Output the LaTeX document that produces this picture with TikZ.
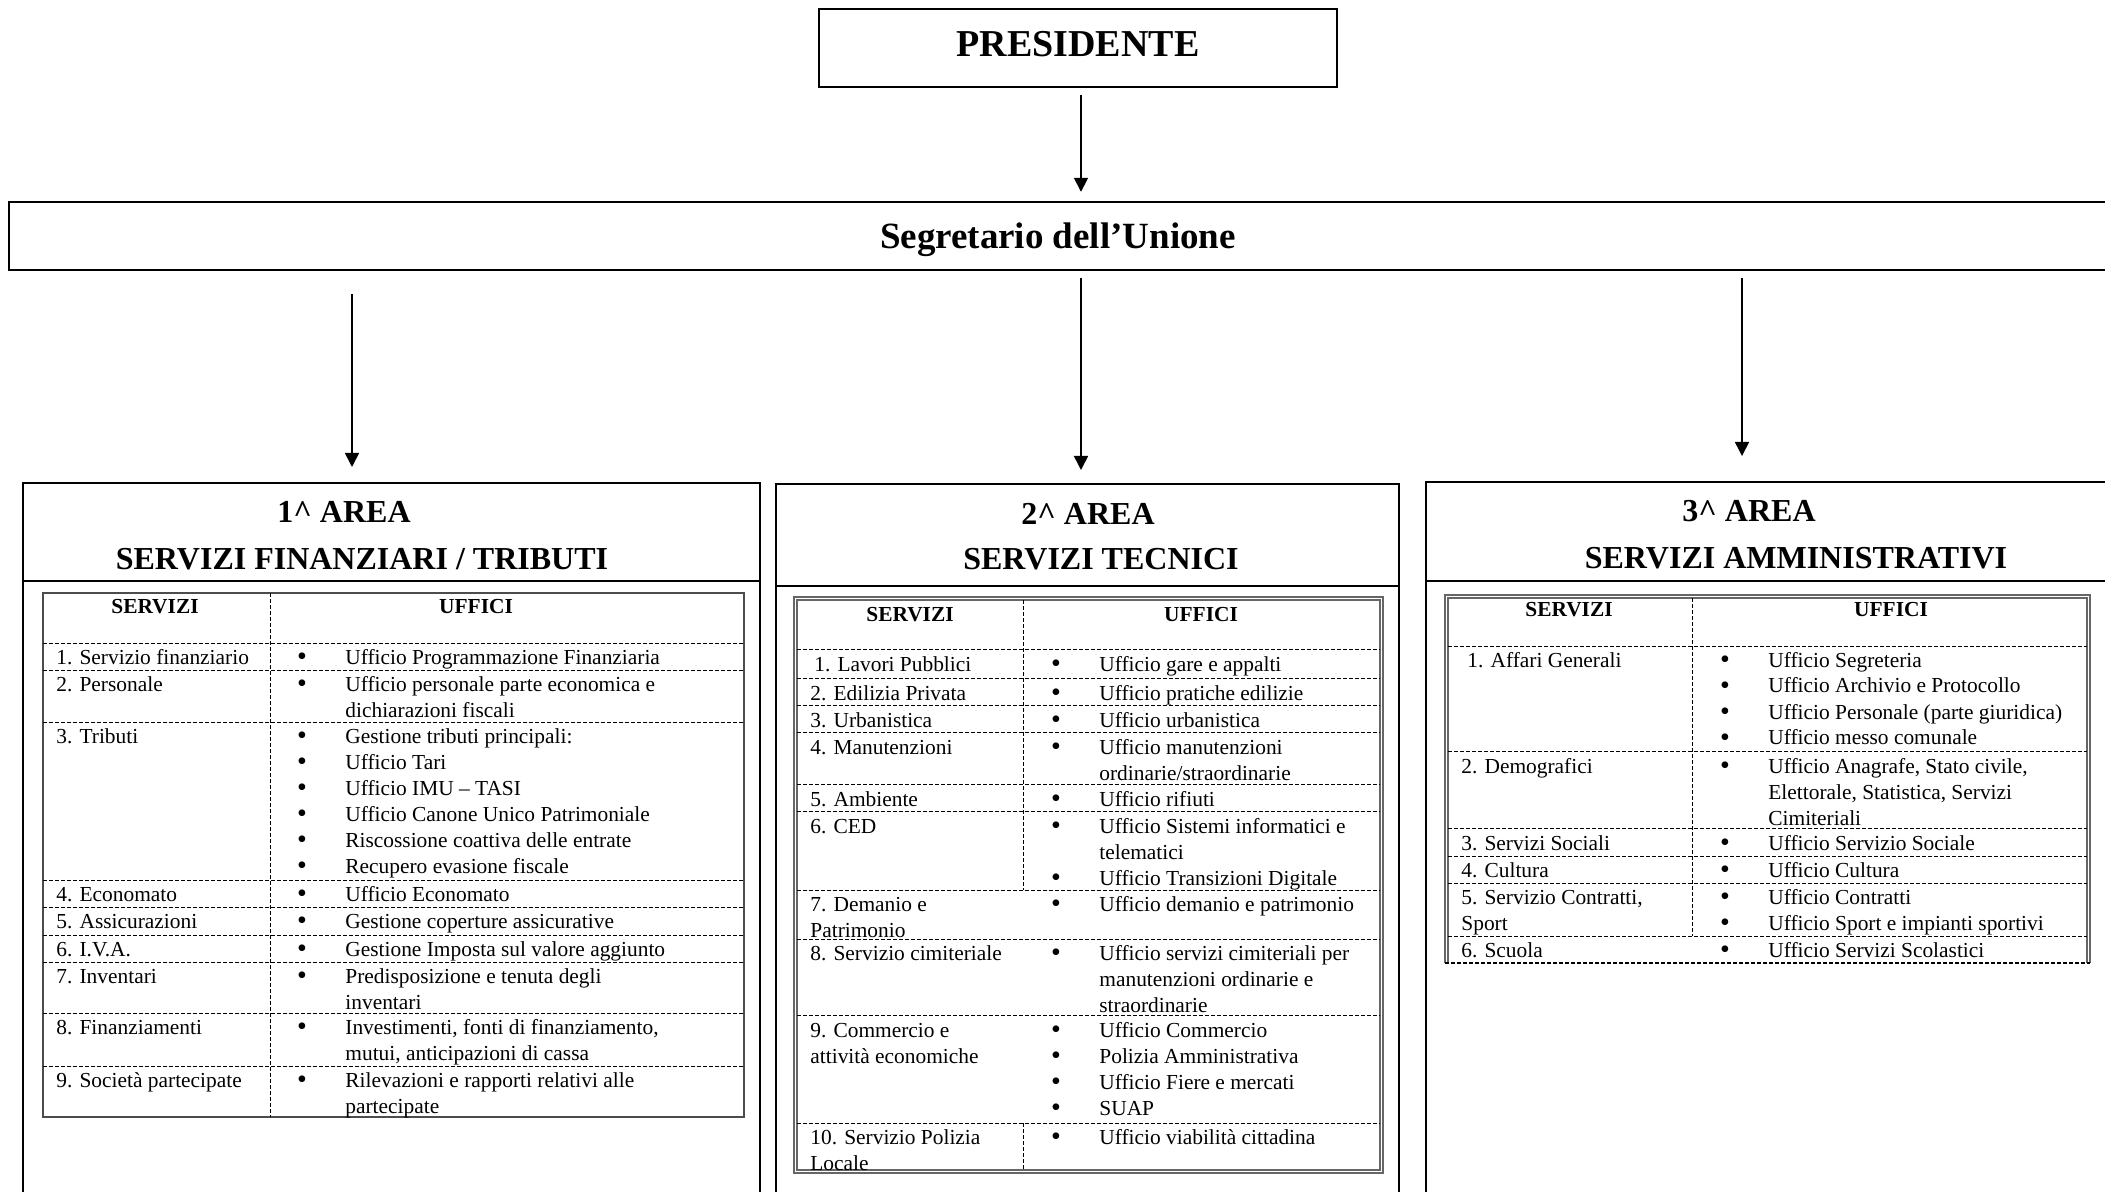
\documentclass[tikz,border=0pt]{standalone}
\usepackage{fontspec}
\setmainfont{Liberation Serif}
\usetikzlibrary{arrows.meta}
\newcommand\svcell[1]{\begin{tabular}[t]{@{}l@{}}#1\end{tabular}}
\newcommand\ufcell[1]{\begin{tabular}[t]{@{}p{23.5pt}@{}l@{}}#1\end{tabular}}
\newcommand\bu{\hspace*{-0.6pt}\raisebox{-0.9pt}{\fontsize{14}{13}\selectfont\textbullet}}
\begin{document}
\begin{tikzpicture}[x=0.5pt,y=-0.5pt,
 box/.style={draw, line width=1.2pt, inner sep=0pt},
 arr/.style={line width=0.8pt, -{Triangle[length=7pt,width=7pt]}},
 ttl/.style={font=\fontsize{16}{19}\selectfont\bfseries, anchor=base, inner sep=0pt},
 hd/.style={font=\fontsize{10.7}{13}\selectfont\bfseries, anchor=base, inner sep=0pt},
 cell/.style={font=\fontsize{10.7}{13}\selectfont, anchor=base west, inner sep=0pt},
 dl/.style={line width=0.5pt, dash pattern=on 2pt off 1pt},
 tb/.style={line width=0.9pt, draw=black!70},
 tdb/.style={line width=0.6pt, draw=black!60},
]
\useasboundingbox (0,0) rectangle (2105,1192);
\clip (0,0) rectangle (2105,1192);

% top boxes
\node[box, minimum width=259pt, minimum height=39pt, text depth=4pt, font=\fontsize{19}{22}\selectfont\bfseries] (pres) at (1078,48) {PRESIDENTE};
\node[box, minimum width=1049pt, minimum height=34pt, text height=16.6pt, font=\fontsize{18.5}{22}\selectfont\bfseries] (seg) at (1058,236) {Segretario dell’Unione};

% area boxes
\node[box, anchor=north west, minimum width=368.5pt, minimum height=360pt] (area1) at (22,482) {};
\node[box, anchor=north west, minimum width=311.5pt, minimum height=360pt] (area2) at (775,483) {};
\node[box, anchor=north west, minimum width=350pt, minimum height=360pt] (area3) at (1425,481) {};
\draw[line width=1.2pt] (22,581) -- (759,581);
\draw[line width=1.2pt] (775,586) -- (1398,586);
\draw[line width=1.2pt] (1425,581) -- (2120,581);

% connectors
\coordinate (c1) at (352,0);
\coordinate (c2) at (1081,0);
\coordinate (c3) at (1742,0);
\draw[arr, shorten <=3.5pt, shorten >=4.5pt] (pres.south -| c2) -- (seg.north -| c2);
\draw[arr, shorten <=11.5pt, shorten >=7.5pt] (seg.south -| c1) -- (area1.north -| c1);
\draw[arr, shorten <=3.5pt, shorten >=6.5pt] (seg.south -| c2) -- (area2.north -| c2);
\draw[arr, shorten <=3.5pt, shorten >=12.5pt] (seg.south -| c3) -- (area3.north -| c3);

% titles
\node[ttl] (a1t1) at (344,523) {1\textasciicircum{} AREA};
\node[ttl] (a1t2) at (362,569) {SERVIZI FINANZIARI / TRIBUTI};
\node[ttl] (a2t1) at (1088,524) {2\textasciicircum{} AREA};
\node[ttl] (a2t2) at (1101,569) {SERVIZI TECNICI};
\node[ttl] (a3t1) at (1749,522) {3\textasciicircum{} AREA};
\node[ttl] (a3t2) at (1796,568) {SERVIZI AMMINISTRATIVI};

% ---------------- table 1
\draw[tb] (43,593) rectangle (744,1117);
\foreach \y in {643,670,722,880,907,935,962,1013,1066}
  \draw[dl] (43,\y) -- (744,\y);
\draw[dl] (270,593) -- (270,1117);
\node[hd] (t1hs) at (155,613) {SERVIZI};
\node[hd] (t1hu) at (476,613) {UFFICI};
\node[cell] (t1s1) at (56,664) {\svcell{1. Servizio finanziario}};
\node[cell] (t1u1) at (298,664) {\ufcell{\bu & Ufficio Programmazione Finanziaria}};
\node[cell] (t1s2) at (56,691) {\svcell{2. Personale}};
\node[cell] (t1u2) at (298,691) {\ufcell{\bu & Ufficio personale parte economica e\\ & dichiarazioni fiscali}};
\node[cell] (t1s3) at (56,743) {\svcell{3. Tributi}};
\node[cell] (t1u3) at (298,743) {\ufcell{\bu & Gestione tributi principali:\\ \bu & Ufficio Tari\\ \bu & Ufficio IMU – TASI\\ \bu & Ufficio Canone Unico Patrimoniale\\ \bu & Riscossione coattiva delle entrate\\ \bu & Recupero evasione fiscale}};
\node[cell] (t1s4) at (56,901) {\svcell{4. Economato}};
\node[cell] (t1u4) at (298,901) {\ufcell{\bu & Ufficio Economato}};
\node[cell] (t1s5) at (56,928) {\svcell{5. Assicurazioni}};
\node[cell] (t1u5) at (298,928) {\ufcell{\bu & Gestione coperture assicurative}};
\node[cell] (t1s6) at (56,956) {\svcell{6. I.V.A.}};
\node[cell] (t1u6) at (298,956) {\ufcell{\bu & Gestione Imposta sul valore aggiunto}};
\node[cell] (t1s7) at (56,983) {\svcell{7. Inventari}};
\node[cell] (t1u7) at (298,983) {\ufcell{\bu & Predisposizione e tenuta degli\\ & inventari}};
\node[cell] (t1s8) at (56,1034) {\svcell{8. Finanziamenti}};
\node[cell] (t1u8) at (298,1034) {\ufcell{\bu & Investimenti, fonti di finanziamento,\\ & mutui, anticipazioni di cassa}};
\node[cell] (t1s9) at (56,1087) {\svcell{9. Società partecipate}};
\node[cell] (t1u9) at (298,1087) {\ufcell{\bu & Rilevazioni e rapporti relativi alle\\ & partecipate}};

% ---------------- table 2
\draw[tdb] (794,597) rectangle (1383,1173);
\draw[tdb] (797,600) rectangle (1380,1170);
\foreach \y in {649,678,705,732,784,811,890,939,1015,1123}
  \draw[dl] (797,\y) -- (1380,\y);
\draw[dl] (1023,600) -- (1023,890);
\draw[dl] (1023,1123) -- (1023,1170);
\node[hd] (t2hs) at (910,621) {SERVIZI};
\node[hd] (t2hu) at (1201,621) {UFFICI};
\node[cell] (t2s1) at (814,671) {\svcell{1. Lavori Pubblici}};
\node[cell] (t2u1) at (1052,671) {\ufcell{\bu & Ufficio gare e appalti}};
\node[cell] (t2s2) at (810,700) {\svcell{2. Edilizia Privata}};
\node[cell] (t2u2) at (1052,700) {\ufcell{\bu & Ufficio pratiche edilizie}};
\node[cell] (t2s3) at (810,727) {\svcell{3. Urbanistica}};
\node[cell] (t2u3) at (1052,727) {\ufcell{\bu & Ufficio urbanistica}};
\node[cell] (t2s4) at (810,754) {\svcell{4. Manutenzioni}};
\node[cell] (t2u4) at (1052,754) {\ufcell{\bu & Ufficio manutenzioni\\ & ordinarie/straordinarie}};
\node[cell] (t2s5) at (810,806) {\svcell{5. Ambiente}};
\node[cell] (t2u5) at (1052,806) {\ufcell{\bu & Ufficio rifiuti}};
\node[cell] (t2s6) at (810,833) {\svcell{6. CED}};
\node[cell] (t2u6) at (1052,833) {\ufcell{\bu & Ufficio Sistemi informatici e\\ & telematici\\ \bu & Ufficio Transizioni Digitale}};
\node[cell] (t2s7) at (810,911) {\svcell{7. Demanio e\\ Patrimonio}};
\node[cell] (t2u7) at (1052,911) {\ufcell{\bu & Ufficio demanio e patrimonio}};
\node[cell] (t2s8) at (810,960) {\svcell{8. Servizio cimiteriale}};
\node[cell] (t2u8) at (1052,960) {\ufcell{\bu & Ufficio servizi cimiteriali per\\ & manutenzioni ordinarie e\\ & straordinarie}};
\node[cell] (t2s9) at (810,1037) {\svcell{9. Commercio e\\ attività economiche}};
\node[cell] (t2u9) at (1052,1037) {\ufcell{\bu & Ufficio Commercio\\ \bu & Polizia Amministrativa\\ \bu & Ufficio Fiere e mercati\\ \bu & SUAP}};
\node[cell] (t2s10) at (810,1144) {\svcell{10. Servizio Polizia\\ Locale}};
\node[cell] (t2u10) at (1052,1144) {\ufcell{\bu & Ufficio viabilità cittadina}};

% ---------------- table 3
\draw[tdb] (1445,963) -- (1445,595) -- (2090,595) -- (2090,963);
\draw[tdb] (1448,963) -- (1448,598) -- (2087,598) -- (2087,963);
\draw[dl, line width=0.7pt] (1445,963) -- (2090,963);
\foreach \y in {646,751,828,856,883,936}
  \draw[dl] (1448,\y) -- (2087,\y);
\draw[dl] (1692,598) -- (1692,936);
\node[hd] (t3hs) at (1569,617) {SERVIZI};
\node[hd] (t3hu) at (1891,617) {UFFICI};
\node[cell] (t3s1) at (1467,667) {\svcell{1. Affari Generali}};
\node[cell] (t3u1) at (1721,667) {\ufcell{\bu & Ufficio Segreteria\\ \bu & Ufficio Archivio e Protocollo\\ \bu & Ufficio Personale (parte giuridica)\\ \bu & Ufficio messo comunale}};
\node[cell] (t3s2) at (1461,773) {\svcell{2. Demografici}};
\node[cell] (t3u2) at (1721,773) {\ufcell{\bu & Ufficio Anagrafe, Stato civile,\\ & Elettorale, Statistica, Servizi\\ & Cimiteriali}};
\node[cell] (t3s3) at (1461,850) {\svcell{3. Servizi Sociali}};
\node[cell] (t3u3) at (1721,850) {\ufcell{\bu & Ufficio Servizio Sociale}};
\node[cell] (t3s4) at (1461,877) {\svcell{4. Cultura}};
\node[cell] (t3u4) at (1721,877) {\ufcell{\bu & Ufficio Cultura}};
\node[cell] (t3s5) at (1461,904) {\svcell{5. Servizio Contratti,\\ Sport}};
\node[cell] (t3u5) at (1721,904) {\ufcell{\bu & Ufficio Contratti\\ \bu & Ufficio Sport e impianti sportivi}};
\node[cell] (t3s6) at (1461,957) {\svcell{6. Scuola}};
\node[cell] (t3u6) at (1721,957) {\ufcell{\bu & Ufficio Servizi Scolastici}};
\end{tikzpicture}
\end{document}
